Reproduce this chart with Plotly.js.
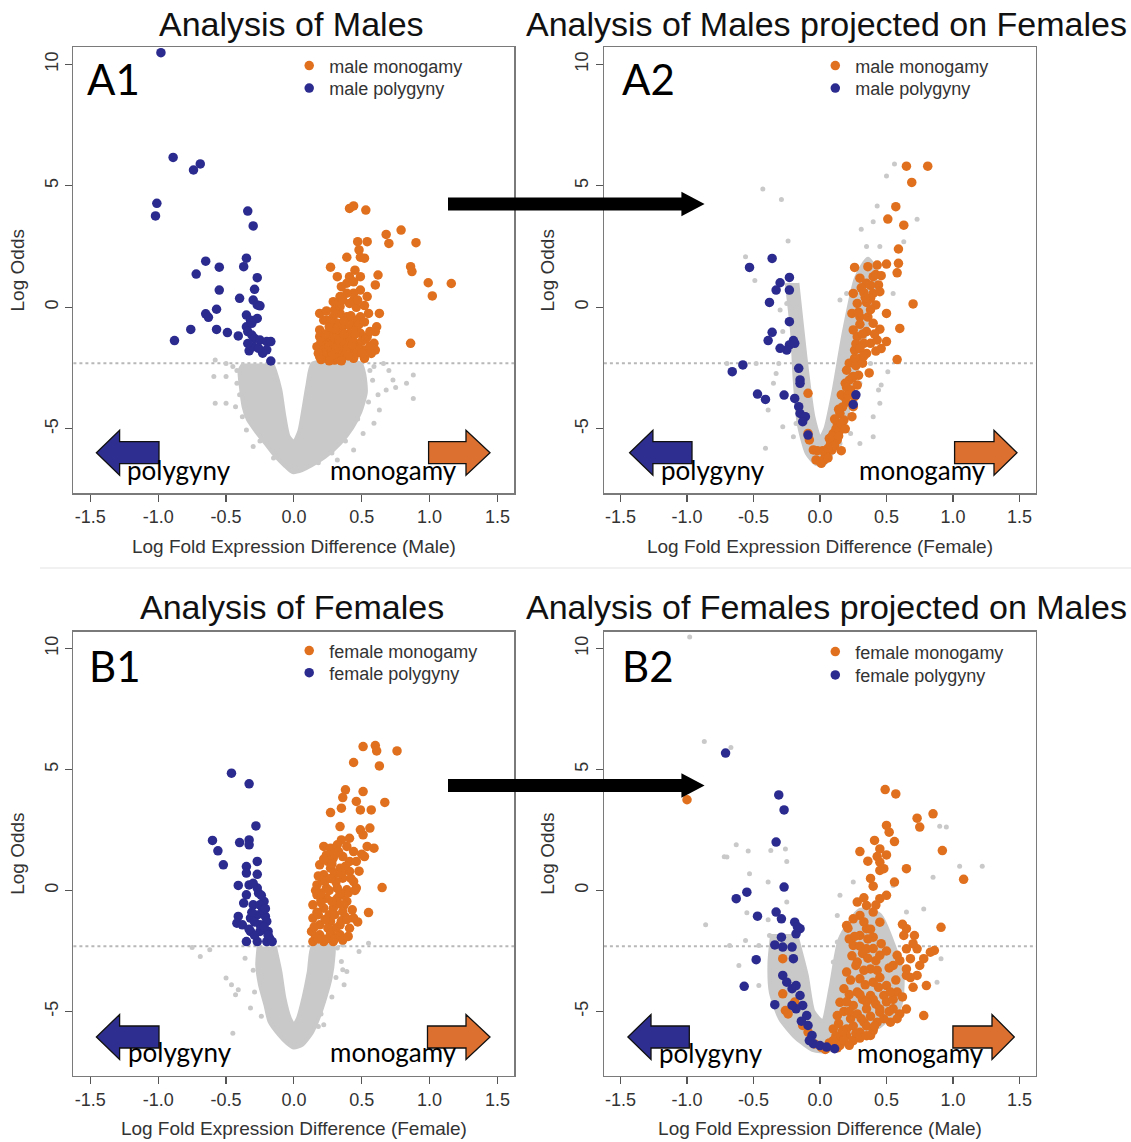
<!DOCTYPE html>
<html><head><meta charset="utf-8">
<script src="https://cdn.plot.ly/plotly-3.0.1.min.js"></script>
<style>html,body{margin:0;padding:0;background:#fff}#chart{width:1131px;height:1142px}</style>
</head><body><div id="chart"></div>
<script>
// ---------- tick labels ----------
const xTickVals = [-1.5,-1,-0.5,0,0.5,1,1.5];
const xTickText = ["-1.5","-1.0","-0.5","0.0","0.5","1.0","1.5"];
const yTickVals = [-5,0,5,10];
const yTickText = ["-5","0","5","10"];
const threshold = -2.3;

// ---------- A1: Analysis of Males ----------
const a1Mono = [[0.41,4.07],[0.44,4.17],[0.53,4.0],[0.68,3.0],[0.79,3.18],[0.70,2.63],[0.90,2.66],[0.47,2.7],[0.48,2.36],[0.54,2.7],[0.49,2.06],[0.39,2.06],[0.52,2.02],[0.86,1.67],[0.87,1.47],[0.27,1.65],[0.45,1.53],[0.41,1.26],[0.32,1.26],[0.39,0.99],[0.62,1.33],[0.60,0.92],[0.99,1.01],[1.16,0.98],[1.02,0.47],[0.49,0.71],[0.54,0.44],[0.34,0.44],[0.44,0.3],[0.32,0.16],[0.46,0.0],[0.52,0.07],[0.55,-0.25],[0.63,-0.25],[0.19,-0.25],[0.22,-0.53],[0.86,-1.48],[0.52,-2.1],
[0.29,-0.39],[0.34,-0.25],[0.39,-0.39],[0.44,-0.52],[0.49,-0.39],[0.32,-0.66],[0.36,-0.8],[0.41,-0.73],[0.46,-0.87],[0.27,-0.93],[0.32,-1.07],[0.36,-1.21],[0.41,-1.07],[0.49,-1.07],[0.19,-1.21],[0.24,-1.35],[0.29,-1.48],[0.34,-1.62],[0.39,-1.48],[0.44,-1.41],[0.54,-1.21],[0.59,-1.48],[0.17,-1.62],[0.22,-1.76],[0.27,-1.9],[0.32,-1.96],[0.36,-1.83],[0.41,-1.76],[0.46,-1.9],[0.52,-1.76],[0.60,-1.76],[0.19,-2.03],[0.24,-2.1],[0.30,-2.17],[0.44,-2.1],[0.61,-0.8],[0.60,-1.0],[0.19,-0.93],[0.24,-0.52],[0.34,0.03],[0.41,0.16],[0.29,0.23],[0.44,0.58],[0.49,1.26],[0.44,1.05],[0.35,0.85],[0.39,0.58],
[0.22,-1.5],[0.26,-1.6],[0.30,-1.25],[0.35,-1.4],[0.38,-1.95],[0.27,-0.6],[0.37,-0.55],[0.30,-0.9],[0.25,-1.1],[0.42,-1.25],[0.47,-1.6],[0.21,-1.9],[0.33,-2.1],[0.28,-1.75],[0.40,-2.0],[0.50,-1.4],[0.56,-1.6],
[0.18,-1.9],[0.20,-1.4],[0.23,-1.1],[0.26,-0.8],[0.28,-2.0],[0.31,-1.65],[0.33,-1.3],[0.37,-1.1],[0.39,-1.7],[0.43,-1.55],[0.45,-1.1],[0.48,-0.7],[0.50,-1.9],[0.53,-1.3],[0.57,-1.9],[0.35,-2.2],[0.26,-2.2],[0.20,-2.15],[0.42,-0.35],[0.30,-0.1],[0.36,0.3],[0.47,0.3],[0.52,-0.6],[0.56,-1.0],[0.24,-0.15]];
const a1Poly = [[-0.98,10.48],[-0.89,6.17],[-0.74,5.65],[-0.69,5.9],[-1.01,4.28],[-1.02,3.76],[-0.34,3.96],[-0.30,3.35],[-0.65,1.9],[-0.55,1.65],[-0.72,1.37],[-0.35,2.02],[-0.37,1.67],[-0.27,1.22],[-0.55,0.71],[-0.29,0.74],[-0.40,0.37],[-0.30,0.3],[-0.27,0.1],[-0.25,0.06],[-0.57,-0.08],[-0.65,-0.27],[-0.63,-0.41],[-0.35,-0.32],[-0.32,-0.53],[-0.27,-0.46],[-0.76,-0.91],[-0.57,-0.91],[-0.49,-1.04],[-0.41,-1.18],[-0.35,-0.8],[-0.34,-1.0],[-0.31,-1.14],[-0.29,-1.28],[-0.25,-1.35],[-0.20,-1.41],[-0.17,-1.41],[-0.88,-1.37],[-0.33,-1.79],[-0.23,-1.89],[-0.17,-2.21],[-0.30,-1.62],[-0.26,-1.69],[-0.34,-1.49],[-0.20,-1.75],[-0.31,-0.66]];
const a1Gray = [[-0.58,-2.17],[-0.50,-2.31],[-0.45,-2.44],[-0.59,-2.85],[-0.50,-2.85],[-0.58,-3.95],[-0.50,-3.95],[-0.43,-4.09],[0.88,-2.79],[0.88,-3.75],[0.83,-3.13],[0.73,-2.99],[0.68,-3.4],[0.59,-2.44],[0.66,-2.31],[0.63,-4.23],[0.59,-4.77],[0.51,-5.19],[0.44,-5.87],[0.32,-6.28],[-0.30,-5.73],[-0.35,-5.05],[-0.42,-3.13],[0.56,-2.6],[0.58,-3.0],[0.55,-3.9],[0.47,-4.6],[-0.42,-2.6],[-0.40,-3.6],[-0.38,-4.5],[-0.25,-5.5],[-0.15,-6.2],[0.18,-6.4],[0.28,-6.0],[0.38,-5.5],[0.62,-3.6],[0.70,-2.6],[0.75,-3.3]];
const a1Cloud = [[-0.37,-2.31],[-0.40,-2.6],[-0.39,-3.3],[-0.37,-4.1],[-0.34,-4.6],[-0.28,-5.1],[-0.21,-5.6],[-0.14,-6.1],[-0.07,-6.5],[-0.01,-6.78],[0.06,-6.7],[0.13,-6.5],[0.23,-6.15],[0.34,-5.6],[0.43,-4.95],[0.49,-4.3],[0.53,-3.5],[0.52,-2.8],[0.49,-2.31],[0.14,-2.31],[0.10,-3.2],[0.07,-4.2],[0.04,-5.1],[0.0,-5.55],[-0.04,-5.3],[-0.07,-4.5],[-0.10,-3.4],[-0.14,-2.6],[-0.16,-2.31]];

// ---------- A2: Males projected on Females ----------
const a2Mono = [[0.65,5.81],[0.81,5.81],[0.69,5.14],[0.57,4.14],[0.51,3.63],[0.63,3.38],[0.59,2.4],[0.26,1.64],[0.36,1.67],[0.43,1.74],[0.50,1.78],[0.59,1.81],[0.58,1.42],[0.40,1.26],[0.35,0.99],[0.44,0.92],[0.40,0.57],[0.45,0.64],[0.38,0.37],[0.70,0.14],[0.25,0.57],[0.28,0.16],[0.24,-0.25],[0.30,-0.39],[0.50,-0.25],[0.40,-0.66],[0.60,-0.87],[0.25,-0.93],[0.28,-1.21],[0.33,-1.48],[0.38,-1.48],[0.43,-1.35],[0.50,-1.41],[0.26,-1.76],[0.30,-2.1],[0.58,-2.15],[0.37,-2.7],[0.20,-2.59],[0.25,-2.85],[0.19,-3.13],[0.23,-3.4],[0.18,-3.68],[0.26,-3.68],[0.25,-4.09],[0.15,-4.37],[0.13,-4.78],[0.10,-5.19],[0.08,-5.6],[0.05,-6.01],[0.03,-6.28],[0.01,-6.42],[0.04,-6.15],[0.09,-5.87],[0.13,-5.46],[0.15,-5.05],[0.18,-4.64],[-0.03,-6.28],[-0.05,-5.87],[-0.08,-5.46],[-0.09,-5.19],[-0.09,-3.54],[-0.12,-4.5],
[0.30,1.2],[0.33,0.6],[0.35,0.2],[0.42,0.1],[0.30,-0.7],[0.35,-1.0],[0.45,-0.9],[0.27,-1.5],[0.35,-1.9],[0.42,-1.8],[0.22,-2.3],[0.27,-2.4],[0.22,-3.0],[0.28,-3.2],[0.20,-3.9],[0.17,-4.1],[0.12,-5.0],[0.07,-5.4],[0.0,-6.35],[0.06,-6.2],[0.11,-5.7],[0.16,-4.8],
[0.02,-5.9],[0.06,-5.8],[0.09,-5.3],[0.11,-4.6],[0.14,-4.2],[0.16,-3.6],[0.20,-3.3],[0.24,-2.9],[0.26,-2.1],[0.30,-1.7],[0.32,-1.1],[0.36,-0.4],[0.38,-0.1],[0.34,0.4],[0.38,0.9],[0.42,1.35],[0.46,1.3],[0.31,0.8],[0.29,-0.2],[0.32,-2.3],[0.21,-3.6],[0.24,-4.5],[0.19,-5.0],[0.14,-5.3],[0.16,-5.9],[-0.02,-5.9],[0.29,-2.8],[0.33,-2.0],[0.41,-1.1],[0.46,-1.7]];
const a2Poly = [[-0.36,2.01],[-0.53,1.64],[-0.23,1.23],[-0.30,1.01],[-0.33,0.71],[-0.23,0.71],[-0.38,0.2],[-0.23,-0.59],[-0.36,-1.03],[-0.39,-1.37],[-0.20,-1.37],[-0.23,-1.55],[-0.25,-1.76],[-0.19,-1.48],[-0.30,-1.69],[-0.58,-2.37],[-0.66,-2.65],[-0.16,-2.51],[-0.15,-2.99],[-0.15,-3.13],[-0.47,-3.57],[-0.41,-3.79],[-0.27,-3.61],[-0.19,-3.75],[-0.16,-4.09],[-0.15,-4.37],[-0.11,-4.5],[-0.13,-4.71],[-0.09,-5.26],[0.27,-3.6],[0.25,-4.0]];
const a2Gray = [[-0.43,4.87],[-0.29,4.44],[-0.24,2.73],[-0.56,2.08],[-0.49,1.1],[0.56,5.9],[0.50,5.4],[0.43,4.17],[0.31,3.21],[0.40,3.52],[0.73,3.62],[0.63,2.7],[-0.30,-0.11],[-0.18,-0.04],[-0.28,-1.0],[-0.31,-2.31],[-0.48,-2.31],[-0.70,-2.31],[-0.33,-2.72],[-0.35,-3.13],[-0.39,-4.23],[-0.28,-4.92],[-0.41,-5.8],[0.46,-3.2],[0.44,-3.4],[0.45,-3.95],[0.40,-4.5],[0.51,-2.65],[0.55,0.57],[0.35,2.5],[0.45,2.5],[0.38,0.03],[0.20,0.57],[-0.25,0.16],[-0.21,-0.66],[-0.18,-1.76],[-0.15,-2.03],[-0.13,-3.13],[-0.10,-3.95],[-0.10,-4.78],[-0.18,-4.78],[-0.20,-5.33],[-0.05,-5.6],[0.15,0.3],[0.20,-0.66],[0.30,-1.21],[0.38,-2.31],[0.30,-3.13],[0.25,-4.5],[0.23,-5.19],[0.15,-5.6],[0.40,-5.33],[0.30,-5.6]];
const a2Cloud = [[-0.25,1.0],[-0.21,-1.0],[-0.19,-3.0],[-0.16,-4.8],[-0.10,-6.0],[-0.03,-6.45],[0.03,-6.45],[0.11,-5.8],[0.20,-4.5],[0.28,-2.5],[0.37,-0.5],[0.42,1.5],[0.36,2.0],[0.27,1.2],[0.18,-1.0],[0.10,-3.5],[0.04,-5.0],[0.0,-5.4],[-0.05,-4.5],[-0.10,-2.5],[-0.17,1.0]];

// ---------- B1: Analysis of Females ----------
const b1Mono = [[0.51,5.95],[0.60,5.99],[0.61,5.77],[0.76,5.77],[0.44,5.29],[0.63,5.15],[0.38,4.16],[0.36,3.84],[0.51,4.09],[0.46,3.68],[0.49,3.33],[0.57,3.33],[0.67,3.64],[0.27,3.22],[0.35,3.4],[0.34,2.64],[0.49,2.51],[0.56,2.58],[0.51,2.3],[0.35,2.09],[0.41,2.16],[0.54,1.82],[0.59,1.75],[0.52,1.4],[0.65,0.12],[0.55,-0.91],
[0.22,1.82],[0.27,1.75],[0.32,1.89],[0.39,1.82],[0.44,1.61],[0.24,1.47],[0.29,1.34],[0.36,1.4],[0.41,1.2],[0.46,1.2],[0.19,1.06],[0.27,0.92],[0.34,0.92],[0.41,0.79],[0.22,0.65],[0.29,0.51],[0.36,0.51],[0.44,0.37],[0.17,0.23],[0.24,0.1],[0.32,0.1],[0.39,0.03],[0.46,0.1],[0.17,-0.18],[0.24,-0.32],[0.32,-0.32],[0.39,-0.45],[0.14,-0.59],[0.22,-0.73],[0.29,-0.73],[0.36,-0.87],[0.44,-1.14],[0.14,-1.14],[0.19,-1.42],[0.27,-1.28],[0.34,-1.42],[0.41,-1.56],[0.13,-1.69],[0.19,-1.83],[0.27,-1.76],[0.34,-1.83],[0.14,-2.11],[0.22,-2.11],[0.29,-2.11],
[0.20,-0.4],[0.26,-1.0],[0.31,-1.55],[0.17,-0.9],[0.37,-0.2],[0.30,0.7],[0.25,1.2],[0.38,-1.1],[0.16,-1.9],[0.24,-2.0],[0.21,0.4],[0.33,-0.55],
[0.15,-1.5],[0.18,-1.0],[0.20,-0.1],[0.23,0.4],[0.26,0.0],[0.28,-0.45],[0.30,-1.0],[0.32,-1.9],[0.35,-1.25],[0.37,-0.6],[0.40,-0.1],[0.42,0.5],[0.38,1.0],[0.33,1.6],[0.28,1.1],[0.22,1.3],[0.18,0.6],[0.16,0.0],[0.25,-1.55],[0.30,-2.0],[0.36,-2.05],[0.40,-1.9],[0.43,-0.8],[0.45,0.0],[0.48,0.8],[0.50,1.5],[0.31,0.35],[0.35,0.7],[0.20,-0.5],[0.27,0.5],[0.23,-1.2],[0.18,-2.0],[0.47,-1.3],[0.39,-1.2],[0.34,-0.1],[0.30,1.5]];
const b1Poly = [[-0.46,4.85],[-0.33,4.41],[-0.28,2.67],[-0.60,2.07],[-0.56,1.64],[-0.52,1.06],[-0.40,1.98],[-0.33,2.09],[-0.33,1.89],[-0.27,1.2],[-0.35,0.99],[-0.35,0.72],[-0.27,0.67],[-0.41,0.21],[-0.33,0.23],[-0.27,0.1],[-0.35,-0.18],[-0.26,-0.11],[-0.37,-0.52],[-0.30,-0.59],[-0.22,-0.45],[-0.41,-1.07],[-0.42,-1.35],[-0.38,-1.42],[-0.27,-1.01],[-0.21,-1.07],[-0.20,-1.28],[-0.32,-1.69],[-0.25,-1.69],[-0.19,-1.69],[-0.18,-1.97],[-0.35,-2.11],[-0.27,-2.11],[-0.20,-2.11],[-0.16,-2.11],[-0.25,-1.42],[-0.32,-1.14],[-0.25,-0.59],[-0.30,0.30],[-0.22,-1.5],[-0.29,-1.85],[-0.23,-0.8],[-0.31,-0.9],[-0.19,-1.85],[-0.24,-0.2],[-0.29,-1.3],[-0.21,-0.75],[-0.33,-1.6]];
const b1Gray = [[-0.75,-2.36],[-0.69,-2.73],[-0.62,-2.45],[-0.36,-2.8],[-0.50,-3.62],[-0.46,-3.9],[-0.41,-4.1],[-0.43,-4.31],[-0.32,-4.86],[-0.45,-5.9],[0.35,-2.93],[0.36,-3.28],[0.48,-2.52],[0.55,-2.18],[0.22,-5.55],[0.18,-5.62],[0.32,-2.38],[0.36,-2.25],[0.39,-3.35],[0.37,-3.9],[-0.30,-3.3],[-0.29,-4.2],[0.31,-3.6],[0.28,-4.4],[-0.24,-5.2],[0.20,-5.1]];
const b1Cloud = [[-0.26,-2.31],[-0.27,-3.07],[-0.25,-3.9],[-0.21,-4.72],[-0.18,-5.41],[-0.11,-5.96],[-0.05,-6.31],[0.0,-6.49],[0.06,-6.38],[0.13,-5.9],[0.18,-5.28],[0.23,-4.45],[0.27,-3.62],[0.29,-2.8],[0.29,-2.31],[0.14,-2.31],[0.11,-3.35],[0.07,-4.45],[0.03,-5.28],[0.0,-5.55],[-0.03,-5.28],[-0.07,-4.45],[-0.10,-3.35],[-0.14,-2.31]];

// ---------- B2: Females projected on Males ----------
const b2Mono = [[-1.00,3.75],[0.49,4.17],[0.57,3.99],[0.85,3.17],[0.73,2.99],[0.75,2.62],[0.50,2.69],[0.52,2.41],[0.56,2.02],[0.41,2.07],[0.45,1.72],[0.50,1.47],[0.92,1.65],[0.36,1.21],[0.45,1.17],[0.45,0.83],[0.65,0.9],[1.08,0.46],[0.30,1.61],[0.56,0.35],[0.40,0.18],[0.28,-0.48],[0.35,-0.62],[0.45,-0.34],[0.50,-0.2],[0.40,-0.89],[0.30,-1.03],[0.45,-1.31],[0.35,-1.58],[0.21,-1.56],[0.30,-1.86],[0.40,-1.93],[0.91,-1.52],[0.65,-1.58],[0.63,-1.86],[0.71,-1.86],[0.65,-2.41],[0.73,-2.41],[0.78,-2.82],[0.68,-2.82],[0.83,-2.55],[0.86,-2.48],[0.58,-2.68],[0.55,-3.1],[0.65,-3.24],[0.75,-3.1],[0.73,-3.51],[0.65,-3.51],[0.80,-3.93],
[0.25,-2.27],[0.35,-2.41],[0.45,-2.68],[0.28,-2.96],[0.38,-3.24],[0.20,-3.37],[0.30,-3.65],[0.40,-3.79],[0.50,-3.93],[0.18,-4.06],[0.28,-4.2],[0.38,-4.34],[0.48,-4.34],[0.58,-4.2],[0.15,-4.62],[0.25,-4.75],[0.35,-4.89],[0.45,-5.03],[0.55,-4.89],[0.60,-5.1],[0.13,-5.17],[0.23,-5.3],[0.33,-5.44],[0.43,-5.44],[0.53,-5.44],[0.10,-5.72],[0.20,-5.72],[0.30,-5.86],[0.40,-5.79],[0.15,-6.13],[0.25,-6.2],[0.08,-6.41],[0.04,-6.57],[0.38,-5.99],[0.78,-5.17],[0.20,-1.45],[0.25,-1.17],
[0.32,-2.6],[0.42,-2.9],[0.24,-2.7],[0.33,-3.3],[0.45,-3.6],[0.22,-4.3],[0.32,-4.5],[0.42,-4.7],[0.50,-4.6],[0.18,-5.0],[0.28,-5.1],[0.38,-5.2],[0.48,-5.3],[0.14,-5.5],[0.25,-5.6],[0.35,-5.6],[0.12,-6.0],[0.20,-6.0],[0.30,-6.1],[0.07,-6.3],[0.15,-6.4],[0.55,-4.5],[0.62,-4.4],[0.70,-4.0],
[-0.28,-2.82],[-0.28,-4.27],[-0.26,-4.96],[-0.24,-5.1],[-0.19,-4.61],[-0.13,-5.58],[-0.09,-5.85],[-0.04,-6.34],[0.01,-6.48],
[0.22,-2.0],[0.30,-2.3],[0.40,-2.4],[0.50,-2.5],[0.27,-3.1],[0.36,-2.8],[0.43,-3.3],[0.52,-3.2],[0.57,-3.7],[0.23,-3.7],[0.34,-3.9],[0.44,-4.0],[0.53,-4.2],[0.20,-4.6],[0.30,-4.3],[0.40,-4.5],[0.35,-4.6],[0.45,-4.9],[0.52,-5.0],[0.22,-5.0],[0.31,-5.3],[0.41,-5.6],[0.17,-5.8],[0.27,-5.9],[0.35,-6.0],[0.10,-6.2],[0.18,-6.2],[0.22,-6.4],[0.13,-6.5],[0.33,-1.3],[0.38,-1.6],[0.42,-0.6],[0.33,-0.3],[0.38,0.5],[0.43,1.4],[0.48,0.9],[0.36,-2.0],[0.26,-1.9],[0.46,-2.2],[0.60,-2.9],[0.68,-3.6],[0.70,-2.2],[0.62,-1.4],[0.58,-5.3],[0.65,-4.9]];
const b2Poly = [[-0.71,5.68],[-0.31,3.95],[-0.27,3.33],[-0.33,2.0],[-0.27,0.14],[-0.63,-0.34],[-0.55,-0.07],[-0.47,-1.06],[-0.33,-0.89],[-0.29,-1.17],[-0.19,-1.31],[-0.15,-1.58],[-0.18,-1.79],[-0.29,-1.93],[-0.34,-2.25],[-0.28,-2.34],[-0.21,-2.34],[-0.20,-2.82],[-0.48,-2.86],[-0.57,-3.96],[-0.34,-4.72],[-0.28,-3.51],[-0.25,-3.79],[-0.21,-4.06],[-0.18,-3.93],[-0.15,-4.34],[-0.13,-4.75],[-0.10,-5.17],[-0.09,-5.58],[-0.06,-5.99],[-0.05,-6.33],[0.0,-6.41],[0.05,-6.47],[0.11,-6.54],[-0.18,-4.89],[-0.21,-4.75],[-0.17,-1.5],[-0.14,-5.4],[-0.08,-6.2]];
const b2Gray = [[-0.98,10.48],[-0.87,6.16],[-0.67,5.91],[-0.63,1.89],[-0.70,1.38],[-0.54,1.63],[-0.26,1.72],[-0.25,1.2],[-0.53,0.69],[-0.39,0.35],[-0.25,-0.48],[-0.55,-0.92],[-0.86,-1.42],[-0.39,-1.21],[-0.56,-2.07],[-0.68,-2.27],[-0.46,-2.27],[-0.61,-3.1],[-0.46,-3.93],[-0.38,-1.86],[0.95,2.62],[1.05,1.0],[1.22,1.0],[0.85,0.55],[0.91,-2.82],[0.88,-3.79],[0.78,-0.76],[0.65,-0.89],[0.55,0.21],[0.25,0.35],[0.39,0.21],[-0.20,-3.79],[-0.10,-4.06],[-0.08,-4.75],[-0.18,-5.72],[-0.25,-5.58],[0.15,-0.2],[0.13,-1.03],[0.13,-2.13],[0.10,-2.96],[0.20,-3.24],[-0.72,1.39],[-0.37,1.65],[0.90,2.66]];
const b2Cloud = [[-0.36,-1.8],[-0.38,-3.0],[-0.37,-4.2],[-0.30,-5.3],[-0.18,-6.1],[-0.05,-6.6],[0.05,-6.65],[0.20,-6.3],[0.45,-5.6],[0.60,-4.8],[0.62,-3.5],[0.55,-2.2],[0.45,-1.0],[0.30,-0.8],[0.15,-2.0],[0.08,-4.0],[0.02,-5.4],[-0.05,-5.0],[-0.10,-3.5],[-0.18,-1.8]];

// ---------- styling / layout ----------
const W = 1131, H = 1142;
const fx = v => v / W, fy = v => 1 - v / H;
const ORANGE = '#E0701E', BLUE = '#2B2A8E', GRAY = '#C9C9C9';
const SANS = 'Liberation Sans, Arial, sans-serif';
const CAL = 'Lato, Open Sans, sans-serif';

const traces = [];
function panel(n, cloud, gray, mono, poly, who) {
  const xa = n === 1 ? 'x' : 'x' + n, ya = n === 1 ? 'y' : 'y' + n;
  const lgMono = n === 1 ? 'legend' : 'legend' + (2 * n - 1);
  const lgPoly = 'legend' + (2 * n);
  traces.push({type:'scatter', mode:'lines', x:cloud.map(p=>p[0]), y:cloud.map(p=>p[1]), fill:'toself',
    fillcolor:GRAY, line:{color:GRAY, width:4, shape:'spline', smoothing:0.6}, xaxis:xa, yaxis:ya, showlegend:false, hoverinfo:'skip'});
  traces.push({type:'scatter', mode:'markers', x:gray.map(p=>p[0]), y:gray.map(p=>p[1]),
    marker:{color:GRAY, size:5}, xaxis:xa, yaxis:ya, showlegend:false, hoverinfo:'skip'});
  traces.push({type:'scatter', mode:'markers', name: who + ' monogamy', x:mono.map(p=>p[0]), y:mono.map(p=>p[1]),
    marker:{color:ORANGE, size:9.5}, xaxis:xa, yaxis:ya, legend:lgMono});
  traces.push({type:'scatter', mode:'markers', name: who + ' polygyny', x:poly.map(p=>p[0]), y:poly.map(p=>p[1]),
    marker:{color:BLUE, size:9.5}, xaxis:xa, yaxis:ya, legend:lgPoly});
}
panel(1, a1Cloud, a1Gray, a1Mono, a1Poly, 'male');
panel(2, a2Cloud, a2Gray, a2Mono, a2Poly, 'male');
panel(3, b1Cloud, b1Gray, b1Mono, b1Poly, 'female');
panel(4, b2Cloud, b2Gray, b2Mono, b2Poly, 'female');

const colL = [73.4, 514.4], colR = [603.9, 1036.1];
const rowA = [47.3, 493.2], rowB = [631.6, 1075.6];
function xAx(c, title, anchor) {
  return {domain:[fx(c[0]), fx(c[1])], range:[-1.625,1.625], anchor:anchor, tickvals:xTickVals, ticktext:xTickText,
    ticks:'outside', ticklen:7, tickwidth:1.2, tickcolor:'#555', showline:true, linecolor:'#7a7a7a', linewidth:1.3, mirror:true,
    showgrid:false, zeroline:false, fixedrange:true, automargin:false,
    tickfont:{family:SANS, size:18, color:'#333'},
    title:{text:title, font:{family:SANS, size:19, color:'#333'}, standoff:13}};
}
function yAx(r, anchor) {
  return {domain:[fy(r[1]), fy(r[0])], range:[-7.65,10.7], anchor:anchor, tickvals:yTickVals, ticktext:yTickText, tickangle:-90,
    ticks:'outside', ticklen:7, tickwidth:1.2, tickcolor:'#555', showline:true, linecolor:'#7a7a7a', linewidth:1.3, mirror:true,
    showgrid:false, zeroline:false, fixedrange:true, automargin:false,
    tickfont:{family:SANS, size:18, color:'#333'},
    title:{text:'Log Odds', font:{family:SANS, size:19, color:'#333'}, standoff:12}};
}
function leg(lx, ty) {
  return {x:fx(lx), y:fy(ty), xanchor:'left', yanchor:'top', bgcolor:'rgba(0,0,0,0)', borderwidth:0,
    font:{family:SANS, size:18, color:'#333'}, tracegroupgap:0, itemclick:false};
}

// arrows (pixel geometry -> paper)
function arrowPath(tip, base, tail, cy, sh, hh) {
  const P = (x, y) => fx(x).toFixed(5) + ',' + fy(y).toFixed(5);
  return 'M' + P(tip, cy) + ' L' + P(base, cy - hh) + ' L' + P(base, cy - sh) + ' L' + P(tail, cy - sh) +
         ' L' + P(tail, cy + sh) + ' L' + P(base, cy + sh) + ' L' + P(base, cy + hh) + ' Z';
}
const shapes = [];
function sideArrows(bl, orr, cy) {
  shapes.push({type:'path', xref:'paper', yref:'paper', path:arrowPath(bl[0], bl[1], bl[2], cy, 11, 22.5),
    fillcolor:'#2E2E90', line:{color:'#111', width:1.3}});
  shapes.push({type:'path', xref:'paper', yref:'paper', path:arrowPath(orr[0], orr[1], orr[2], cy, 11, 22.5),
    fillcolor:'#DC7030', line:{color:'#111', width:1.3}});
}
sideArrows([96.4,119.6,159], [490,466,428.6], 452.7);
sideArrows([629.6,652.9,692], [1017,994,954.6], 452.7);
sideArrows([96.4,119.6,159], [490,466,427.5], 1037);
sideArrows([627.9,651,689.3], [1014.3,992,952.9], 1037);
shapes.push({type:'path', xref:'paper', yref:'paper', path:arrowPath(704.6, 681.4, 448, 204, 6.5, 12.2), fillcolor:'#000', line:{width:0}});
shapes.push({type:'path', xref:'paper', yref:'paper', path:arrowPath(704.6, 681.4, 448, 785.5, 6.5, 12.2), fillcolor:'#000', line:{width:0}});
['','2','3','4'].forEach(s => shapes.push({type:'line', xref:'x'+s+' domain', yref:'y'+s, x0:0, x1:1, y0:threshold, y1:threshold,
  line:{color:'#b8b8b8', width:2, dash:'dot'}, layer:'below'}));
shapes.push({type:'line', xref:'paper', yref:'paper', x0:fx(40), x1:fx(1131), y0:fy(568), y1:fy(568), line:{color:'#ededed', width:1.5}});

const ann = [];
function txt(t, x, y, size, fam, xa, col) {
  ann.push({text:t, x:fx(x), y:fy(y), xref:'paper', yref:'paper', xanchor:xa, yanchor:'middle', showarrow:false,
    font:{family:fam, size:size, color:col || '#111'}});
}
txt('Analysis of Males', 291, 24.2, 34, SANS, 'center');
txt('Analysis of Males projected on Females', 826.5, 24.2, 34, SANS, 'center');
txt('Analysis of Females', 292, 606.5, 34, SANS, 'center');
txt('Analysis of Females projected on Males', 826, 606.5, 34, SANS, 'center');
txt('A1', 85, 78.7, 42, CAL, 'left', '#000');
txt('A2', 620, 78.7, 42, CAL, 'left', '#000');
txt('B1', 86.5, 665.7, 42, CAL, 'left', '#000');
txt('B2', 620, 665.7, 42, CAL, 'left', '#000');
[[125,393.5,470],[659,922.5,470],[125.5,393.5,1051.7],[657,920.5,1053]].forEach(q => {
  txt('polygyny', q[0], q[2], 26, CAL, 'left', '#000');
  txt('monogamy', q[1], q[2], 26, CAL, 'center', '#000');
});

const layout = {
  width:W, height:H, margin:{l:0,r:0,t:0,b:0}, paper_bgcolor:'#fff', plot_bgcolor:'rgba(0,0,0,0)',
  showlegend:true,
  xaxis:xAx(colL, 'Log Fold Expression Difference (Male)', 'y'),
  yaxis:yAx(rowA, 'x'),
  xaxis2:xAx(colR, 'Log Fold Expression Difference (Female)', 'y2'),
  yaxis2:yAx(rowA, 'x2'),
  xaxis3:xAx(colL, 'Log Fold Expression Difference (Female)', 'y3'),
  yaxis3:yAx(rowB, 'x3'),
  xaxis4:xAx(colR, 'Log Fold Expression Difference (Male)', 'y4'),
  yaxis4:yAx(rowB, 'x4'),
  legend:leg(289.2, 47.4), legend2:leg(289.2, 69.9),
  legend3:leg(815.3, 47.4), legend4:leg(815.3, 69.9),
  legend5:leg(289.2, 632.4), legend6:leg(289.2, 654.5),
  legend7:leg(815.3, 633.4), legend8:leg(815.3, 656.7),
  shapes:shapes, annotations:ann
};
Plotly.newPlot('chart', traces, layout, {staticPlot:true, displayModeBar:false});
</script></body></html>
